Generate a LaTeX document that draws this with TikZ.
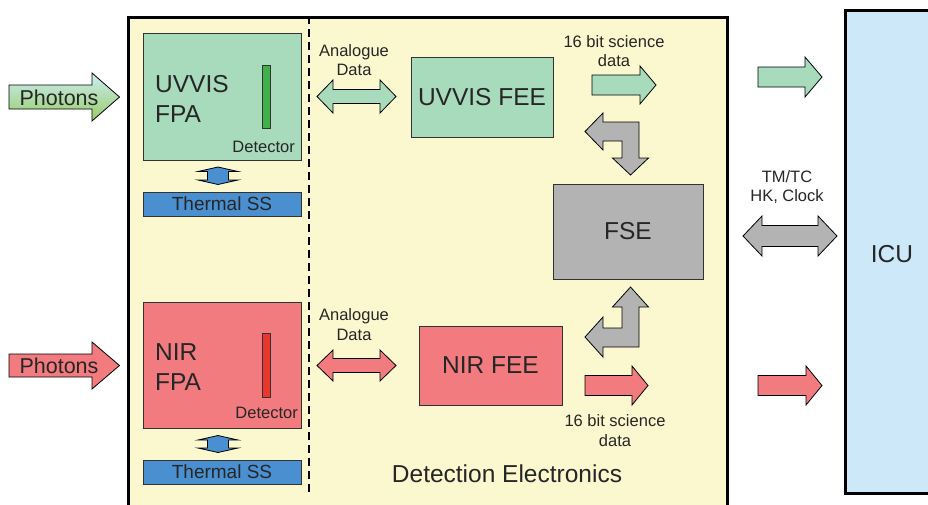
\documentclass[tikz,border=0pt]{standalone}
\usepackage{fontspec}
\setmainfont{Liberation Sans}
\definecolor{detbg}{RGB}{251,248,207}
\definecolor{uvgreen}{RGB}{168,218,188}
\definecolor{uvdet}{RGB}{64,176,72}
\definecolor{nirred}{RGB}{242,123,128}
\definecolor{nirdet}{RGB}{232,55,44}
\definecolor{fsegrey}{RGB}{179,179,179}
\definecolor{thermblue}{RGB}{74,143,207}
\definecolor{icublue}{RGB}{205,232,249}
\definecolor{phtop}{RGB}{206,236,246}
\definecolor{phbot}{RGB}{150,205,100}
\definecolor{textc}{RGB}{38,38,38}
\definecolor{linec}{RGB}{50,50,50}
\newcommand{\fontbig}{\fontsize{24.5}{30}\selectfont}
\newcommand{\fontmid}{\fontsize{21.5}{26}\selectfont}
\newcommand{\fontss}{\fontsize{19}{23}\selectfont}
\newcommand{\fontsmall}{\fontsize{16.5}{19.5}\selectfont}
% right pointing block arrow: style, x1, x2, yc, shaft, head, head base
\newcommand{\rightblock}[7]{\draw[#1] (#2,#4-#5) -- (#7,#4-#5) -- (#7,#4-#6) -- (#3,#4) -- (#7,#4+#6) -- (#7,#4+#5) -- (#2,#4+#5) -- cycle;}
% two headed block arrow: style, x1, x2, yc, shaft, head, head base 1, head base 2
\newcommand{\twoblock}[8]{\draw[#1] (#2,#4) -- (#7,#4-#6) -- (#7,#4-#5) -- (#8,#4-#5) -- (#8,#4-#6) -- (#3,#4) -- (#8,#4+#6) -- (#8,#4+#5) -- (#7,#4+#5) -- (#7,#4+#6) -- cycle;}
% vertical two headed block arrow: style, xc, y1, y2, shaft, head, head length
\newcommand{\updownblock}[7]{\draw[#1] (#2,#3) -- (#2+#6,#3+#7) -- (#2+#5,#3+#7) -- (#2+#5,#4-#7) -- (#2+#6,#4-#7) -- (#2,#4) -- (#2-#6,#4-#7) -- (#2-#5,#4-#7) -- (#2-#5,#3+#7) -- (#2-#6,#3+#7) -- cycle;}
\begin{document}
\begin{tikzpicture}[x=1pt, y=-1pt,
  box/.style={draw=linec, line width=0.8pt, inner sep=0pt, text=textc, font=\fontbig},
  lbl/.style={inner sep=0pt, text=textc},
  small/.style={lbl, font=\fontsmall, align=center, anchor=north},
  arr/.style={draw=black, line width=0.8pt, line join=miter}]
\useasboundingbox (0,0) rectangle (928,504);
\clip (0,0) rectangle (928,504);
\node[draw=black, line width=2.5pt, fill=detbg, minimum width=599, minimum height=520, anchor=north west] (detel) at (127,16) {};
\draw[line width=2pt, dash pattern=on 8pt off 5pt] (309,16) -- (309,492);
\node[box, fill=icublue, draw=black, line width=2.5pt, minimum width=110, minimum height=483, anchor=north west] (icu) at (844,9) {};
\node[lbl, font=\fontbig] (icutxt) at (892,254) {ICU};
\node[box, fill=uvgreen, minimum width=158, minimum height=127] (uvfpa) at (222,96.5) {};
\node[box, fill=uvdet, minimum width=8, minimum height=63] (uvdetector) at (266,96.5) {};
\node[lbl, font=\fontbig, align=left, anchor=north west] (uvfpatxt) at (155,75) {UVVIS\\FPA};
\node[lbl, font=\fontsmall, anchor=base east] (uvdettxt) at (295,152) {Detector};
\node[box, fill=thermblue, minimum width=158, minimum height=24, font=\fontss] (uvss) at (222,204) {Thermal SS};
\updownblock{arr, fill=thermblue}{218}{167}{184.5}{10.5}{20}{4.5}
\node[box, fill=nirred, minimum width=158, minimum height=126] (nirfpa) at (222,365) {};
\node[box, fill=nirdet, minimum width=8, minimum height=64] (nirdetector) at (266,365) {};
\node[lbl, font=\fontbig, align=left, anchor=north west] (nirfpatxt) at (155,343.3) {NIR\\FPA};
\node[lbl, font=\fontsmall, anchor=base east] (nirdettxt) at (298,418) {Detector};
\node[box, fill=thermblue, minimum width=158, minimum height=24, font=\fontss] (nirss) at (222,472) {Thermal SS};
\updownblock{arr, fill=thermblue}{218}{435.5}{452.5}{10.5}{20}{4.5}
\rightblock{arr, top color=phtop, bottom color=phbot}{9}{119.5}{97}{12}{24}{92}
\node[lbl, font=\fontmid] (uvphot) at (59,97.5) {Photons};
\rightblock{arr, fill=nirred}{9}{119.5}{365.5}{11.5}{23.5}{92}
\node[lbl, font=\fontmid] (nirphot) at (59,366) {Photons};
\node[small] (uvana) at (354,44) {Analogue\\Data};
\twoblock{arr, fill=uvgreen}{317}{396}{96.5}{7}{16.5}{333}{380}
\node[box, fill=uvgreen, minimum width=142, minimum height=80] (uvfee) at (482,97) {UVVIS FEE};
\node[small] (uvsci) at (614,35.3) {16 bit science\\data};
\rightblock{arr, fill=uvgreen}{592}{656}{85}{10}{19}{640}
\node[small] (niranalog) at (354,308.7) {Analogue\\Data};
\twoblock{arr, fill=nirred}{317}{396}{365.5}{7}{15.5}{333}{380}
\node[box, fill=nirred, minimum width=143, minimum height=79] (nirfee) at (490.5,365.5) {NIR FEE};
\rightblock{arr, fill=nirred}{585}{648}{385.5}{10}{19.5}{632}
\node[small] (nirsci) at (615,414.7) {16 bit science\\data};
\node[box, fill=fsegrey, minimum width=150, minimum height=95] (fse) at (628,231.5) {FSE};
\draw[arr, fill=fsegrey] (585,131.5) -- (603,113) -- (603,122) -- (639,122) -- (639,158) -- (648.5,158) -- (630.5,175) -- (612.5,158) -- (622,158) -- (622,141) -- (603,141) -- (603,150) -- cycle;
\draw[arr, fill=fsegrey] (630.5,287) -- (648.5,307) -- (639,307) -- (639,347) -- (603,347) -- (603,357) -- (585,337) -- (603,317) -- (603,328) -- (622,328) -- (622,307) -- (612.5,307) -- cycle;
\node[lbl, font=\fontbig, anchor=base] (deteltxt) at (507,482) {Detection Electronics};
\rightblock{arr, fill=uvgreen}{758}{822}{77}{10}{20}{805}
\rightblock{arr, fill=nirred}{758}{822}{385.5}{10}{19.5}{806}
\node[small] (tmtc) at (787,170) {TM/TC\\HK, Clock};
\twoblock{arr, fill=fsegrey}{743}{837}{236}{10.5}{20}{762}{818}
\end{tikzpicture}
\end{document}
